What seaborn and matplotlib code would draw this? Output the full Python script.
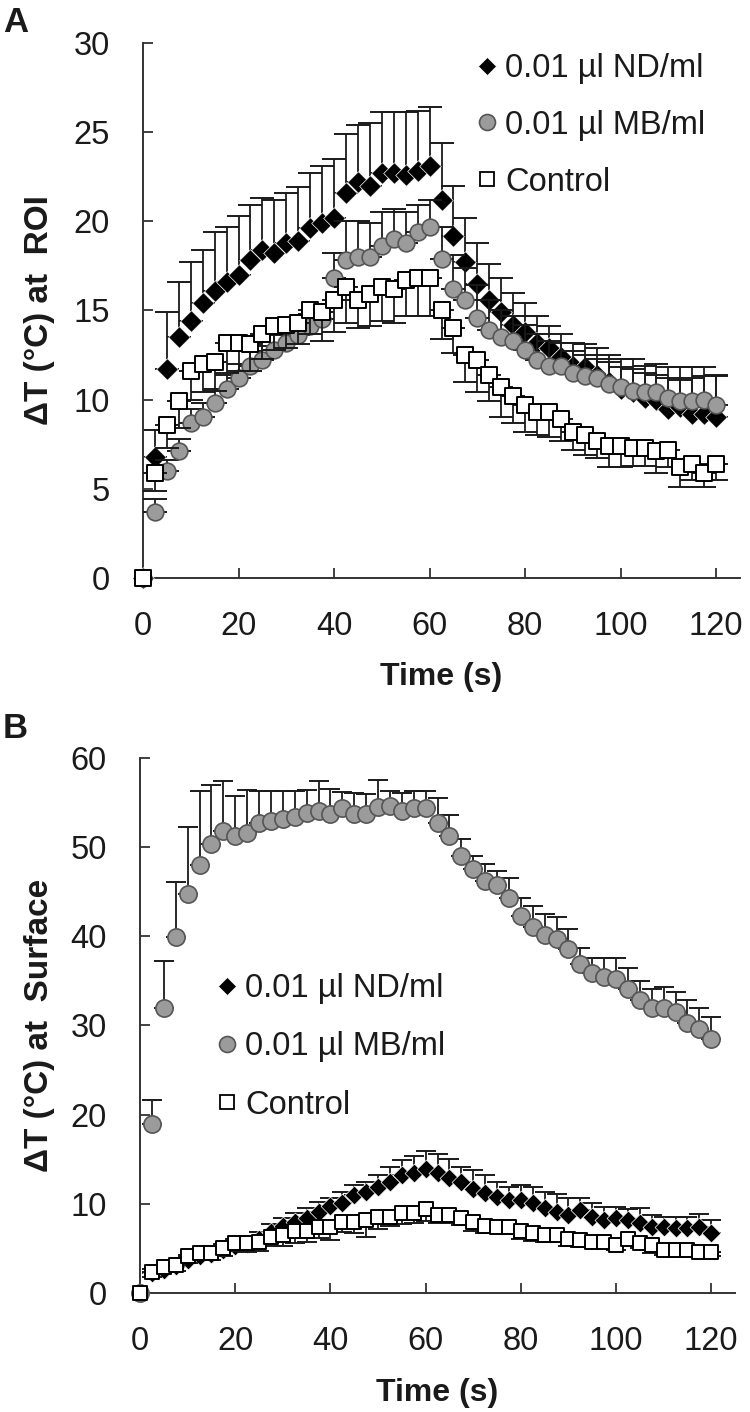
import numpy as np
import pandas as pd
import matplotlib
matplotlib.use("Agg")
import matplotlib.pyplot as plt
import seaborn as sns
from matplotlib.lines import Line2D

# ---------------- data ----------------
time_s = [0, 2.5, 5, 7.5, 10, 12.5, 15, 17.5, 20, 22.5, 25, 27.5, 30, 32.5, 35, 37.5,
          40, 42.5, 45, 47.5, 50, 52.5, 55, 57.5, 60, 62.5, 65, 67.5, 70, 72.5, 75, 77.5,
          80, 82.5, 85, 87.5, 90, 92.5, 95, 97.5, 100, 102.5, 105, 107.5, 110, 112.5,
          115, 117.5, 120]

series_labels = ["0.01 µl ND/ml", "0.01 µl MB/ml", "Control"]

# Panel A: dT at ROI
a_nd = [0, 6.8, 11.7, 13.5, 14.4, 15.4, 16.1, 16.6, 17.0, 17.8, 18.4, 18.2, 18.8, 18.9, 19.6, 19.9,
        20.2, 21.6, 22.2, 22.0, 22.7, 22.7, 22.6, 22.8, 23.1, 21.2, 19.2, 17.7, 16.5, 15.6, 14.9, 14.2,
        13.8, 13.2, 12.9, 12.4, 11.9, 11.8, 11.4, 11.0, 10.6, 10.4, 10.1, 10.0, 9.5, 9.6,
        9.2, 9.2, 9.0]
a_nd_err = [0, 1.5, 3.2, 3.1, 3.3, 3.0, 3.3, 3.1, 3.3, 3.1, 2.9, 3.0, 2.8, 3.0, 3.1, 3.2,
            3.3, 3.3, 3.2, 3.5, 3.4, 3.4, 3.5, 3.4, 3.3, 3.2, 2.8, 2.5, 2.3, 2.0, 1.9, 1.8,
            1.6, 1.5, 1.2, 1.3, 1.3, 1.3, 1.5, 1.5, 1.7, 1.9, 1.8, 2.0, 2.3, 2.2,
            2.6, 2.6, 2.4]
a_mb = [0, 3.7, 6.0, 7.1, 8.7, 9.0, 9.8, 10.6, 11.2, 11.9, 12.2, 12.8, 13.2, 13.6, 14.1, 14.5,
        16.8, 17.8, 18.0, 18.0, 18.6, 19.0, 18.8, 19.4, 19.7, 17.9, 16.2, 15.6, 14.6, 13.9, 13.5, 13.3,
        12.8, 12.2, 11.9, 11.9, 11.5, 11.3, 11.2, 10.9, 10.7, 10.5, 10.4, 10.4, 10.1, 9.9,
        9.9, 10.0, 9.7]
a_mb_err = [0, 0.7, 0.6, 0.7, 0.8, 0.8, 0.8, 0.8, 0.8, 0.8, 0.8, 0.8, 0.8, 0.8, 0.7, 0.7,
            1.4, 2.2, 2.0, 1.9, 1.9, 1.7, 1.7, 1.5, 1.5, 1.8, 1.9, 1.8, 1.8, 1.7, 1.5, 1.4,
            1.4, 1.5, 1.4, 1.3, 1.2, 1.2, 1.1, 1.2, 1.1, 1.2, 1.1, 1.0, 1.1, 1.2,
            1.3, 1.3, 1.6]
a_ctrl = [0, 5.9, 8.6, 9.9, 11.6, 12.0, 12.1, 13.2, 13.2, 13.1, 13.7, 14.1, 14.2, 14.3, 15.0, 14.9,
          15.6, 16.3, 15.6, 15.9, 16.3, 16.2, 16.7, 16.8, 16.8, 15.0, 14.0, 12.5, 12.2, 11.4, 10.7, 10.2,
          9.7, 9.3, 9.3, 8.9, 8.2, 8.0, 7.7, 7.4, 7.4, 7.3, 7.3, 7.1, 7.2, 6.2,
          6.4, 5.9, 6.4]
a_ctrl_err = [0, 1.0, 1.3, 1.5, 1.6, 1.6, 1.6, 1.7, 1.6, 1.5, 1.4, 1.3, 1.3, 1.2, 1.3, 1.6,
              1.8, 2.0, 1.6, 1.8, 1.9, 1.9, 2.0, 2.1, 2.1, 1.6, 1.4, 1.5, 1.8, 1.5, 1.7, 1.5,
              1.5, 1.3, 1.4, 1.2, 1.0, 1.1, 1.0, 1.2, 1.2, 1.0, 1.0, 1.2, 1.0, 1.1,
              0.9, 0.8, 0.9]

# Panel B: dT at surface
b_nd = [0, 2.2, 2.6, 3.0, 3.7, 4.1, 4.4, 4.8, 5.3, 5.5, 6.0, 6.8, 7.5, 8.0, 8.4, 9.1,
        9.7, 10.1, 11.0, 11.3, 11.9, 12.5, 13.2, 13.4, 13.9, 13.5, 12.9, 12.5, 11.7, 11.2, 10.8, 10.4,
        10.4, 10.1, 9.5, 9.1, 8.7, 9.3, 8.5, 8.2, 8.4, 8.2, 7.8, 7.4, 7.4, 7.3,
        7.3, 7.4, 6.7]
b_nd_err = [0, 0.5, 0.5, 0.5, 0.6, 0.6, 0.6, 0.7, 0.7, 0.8, 0.8, 0.9, 0.9, 1.0, 1.1, 1.1,
            0.9, 1.2, 1.1, 1.2, 1.3, 1.6, 1.7, 2.0, 2.0, 2.1, 2.1, 1.6, 2.1, 2.0, 1.7, 1.5,
            1.7, 1.8, 1.8, 2.0, 1.9, 1.4, 1.6, 1.4, 1.2, 1.2, 1.7, 1.3, 1.1, 1.2,
            1.2, 1.5, 1.5]
b_mb = [0, 19.0, 32.0, 39.9, 44.7, 48.0, 50.4, 51.8, 51.3, 51.6, 52.7, 52.9, 53.2, 53.4, 53.8, 54.0,
        53.7, 54.4, 53.7, 53.7, 54.5, 54.6, 54.0, 54.4, 54.4, 52.7, 51.2, 49.0, 47.5, 46.2, 45.8, 44.3,
        42.3, 41.0, 40.2, 39.7, 38.6, 36.9, 35.9, 35.4, 35.2, 34.1, 32.8, 32.0, 32.0, 31.5,
        30.3, 29.6, 28.5]
b_mb_err = [0, 2.6, 5.2, 6.2, 7.6, 8.3, 6.6, 5.6, 4.4, 4.8, 3.6, 3.4, 3.1, 2.9, 2.6, 3.4,
            2.8, 1.8, 2.4, 2.3, 3.0, 1.7, 2.1, 1.9, 1.9, 2.8, 2.4, 1.9, 1.5, 1.9, 1.5, 2.2,
            2.0, 2.4, 2.3, 2.5, 2.2, 1.8, 1.7, 2.2, 2.4, 2.3, 2.2, 2.1, 2.3, 2.2,
            2.5, 2.4, 2.5]
b_ctrl = [0, 2.4, 2.9, 3.1, 4.1, 4.5, 4.5, 5.0, 5.6, 5.6, 5.7, 6.3, 6.5, 6.9, 7.0, 7.4,
          7.4, 8.0, 8.0, 8.2, 8.5, 8.5, 9.0, 9.0, 9.4, 8.7, 8.7, 8.4, 8.0, 7.5, 7.4, 7.4,
          6.9, 6.7, 6.5, 6.5, 6.1, 5.9, 5.7, 5.7, 5.4, 6.1, 5.6, 5.4, 4.8, 4.8,
          4.8, 4.6, 4.6]
b_ctrl_err = [0, 0.6, 0.6, 0.6, 0.7, 0.7, 0.8, 0.8, 0.9, 1.0, 1.0, 1.0, 1.2, 1.3, 1.3, 1.2,
              1.5, 1.2, 1.3, 1.9, 1.3, 1.0, 1.3, 1.2, 1.3, 0.9, 0.9, 0.8, 1.0, 0.8, 0.7, 0.8,
              0.8, 0.9, 0.8, 0.7, 0.8, 0.7, 0.6, 0.5, 0.6, 0.7, 0.6, 0.9, 0.5, 0.8,
              0.5, 0.5, 0.5]

# ---------------- style ----------------
sns.set_style("ticks")
plt.rcParams["font.family"] = ["Liberation Sans", "DejaVu Sans"]
plt.rcParams["mathtext.default"] = "regular"

INK = "#1a1a1a"
MB_FACE = "#9b9b9b"
MB_EDGE = "#555555"

fig = plt.figure(figsize=(7.5, 14.12), dpi=100)
axA = fig.add_axes([0.1907, 0.5907, 0.796, 0.3789])
axB = fig.add_axes([0.1867, 0.0843, 0.7933, 0.3789])


def draw_panel(ax, nd, nd_err, mb, mb_err, ct, ct_err, ms, capsize):
    t = np.array(time_s)
    df = pd.DataFrame({"t": t, "nd": nd, "nd_err": nd_err, "mb": mb, "mb_err": mb_err,
                       "ct": ct, "ct_err": ct_err})
    m = df["nd_err"] > 0
    z = np.zeros(m.sum())
    eb = dict(fmt="none", ecolor=INK, elinewidth=1.3, capsize=capsize, capthick=1.4)
    # ND: upward error bars
    ax.errorbar(df.t[m], df.nd[m], yerr=[z, df.nd_err[m]], zorder=2, **eb)
    sns.scatterplot(data=df, x="t", y="nd", marker="D", s=ms["nd"] ** 2, color="black",
                    edgecolor="white", linewidth=0.5, zorder=3, ax=ax, clip_on=False,
                    legend=False)
    # MB: upward error bars
    ax.errorbar(df.t[m], df.mb[m], yerr=[z, df.mb_err[m]], zorder=4, **eb)
    sns.scatterplot(data=df, x="t", y="mb", marker="o", s=ms["mb"] ** 2, color=MB_FACE,
                    edgecolor=MB_EDGE, linewidth=1.2, zorder=5, ax=ax, clip_on=False,
                    legend=False)
    # Control: downward error bars
    ax.errorbar(df.t[m], df.ct[m], yerr=[df.ct_err[m], z], zorder=6, **eb)
    sns.scatterplot(data=df, x="t", y="ct", marker="s", s=ms["ct"] ** 2, color="white",
                    edgecolor="black", linewidth=1.4, zorder=7, ax=ax, clip_on=False,
                    legend=False)
    ax.set_xlim(0, 125)
    ax.set_xticks([0, 20, 40, 60, 80, 100, 120])
    for side in ("top", "right"):
        ax.spines[side].set_visible(False)
    for side in ("left", "bottom"):
        ax.spines[side].set_linewidth(1.4)
        ax.spines[side].set_color("#333333")
    ax.tick_params(direction="in", length=7, width=1.3, colors="#333333",
                   labelcolor=INK, labelsize=23.5, pad=24)
    ax.set_xlabel("Time (s)", fontsize=23, fontweight="bold", color=INK)


draw_panel(axA, a_nd, a_nd_err, a_mb, a_mb_err, a_ctrl, a_ctrl_err,
           {"nd": 11.0, "mb": 12.0, "ct": 11.0}, 8.4)
axA.set_ylim(0, 30)
axA.set_yticks([0, 5, 10, 15, 20, 25, 30])
axA.set_ylabel("ΔT (°C) at  ROI", fontsize=24, fontweight="bold", color=INK)
axA.yaxis.set_label_coords(-0.148, 0.5)
axA.xaxis.set_label_coords(0.5, -0.157)

draw_panel(axB, b_nd, b_nd_err, b_mb, b_mb_err, b_ctrl, b_ctrl_err,
           {"nd": 9.6, "mb": 12.4, "ct": 9.8}, 7.2)
axB.set_ylim(0, 60)
axB.set_yticks([0, 10, 20, 30, 40, 50, 60])
axB.set_ylabel("ΔT (°C) at  Surface", fontsize=24, fontweight="bold", color=INK)
axB.yaxis.set_label_coords(-0.143, 0.5)
axB.xaxis.set_label_coords(0.5, -0.159)


def legend_handles(ms):
    return [
        Line2D([], [], ls="none", marker="D", ms=ms["nd"], mfc="black", mec="white", mew=0.5),
        Line2D([], [], ls="none", marker="o", ms=ms["mb"], mfc=MB_FACE, mec=MB_EDGE, mew=1.2),
        Line2D([], [], ls="none", marker="s", ms=ms["ct"], mfc="white", mec="black", mew=1.3),
    ]


leg_ms = {"nd": 9.5, "mb": 11.5, "ct": 10.5}
for ax, anchor, spacing in ((axA, (476 / 750, 1 - 53 / 1412), 0.79),
                            (axB, (216 / 750, 1 - 973 / 1412), 0.84)):
    ax.legend(legend_handles(leg_ms), series_labels, loc="upper left",
              bbox_to_anchor=anchor, bbox_transform=fig.transFigure, frameon=False,
              fontsize=23.5, handlelength=0.7, handletextpad=0.2, labelspacing=spacing,
              borderpad=0, borderaxespad=0, labelcolor=INK)

fig.text(3 / 750, 1 - 6 / 1412, "A", fontsize=25, fontweight="bold", ha="left", va="top", color=INK)
fig.text(3 / 750, 1 - 712 / 1412, "B", fontsize=25, fontweight="bold", ha="left", va="top", color=INK)

fig.savefig("out.png", dpi=100)
